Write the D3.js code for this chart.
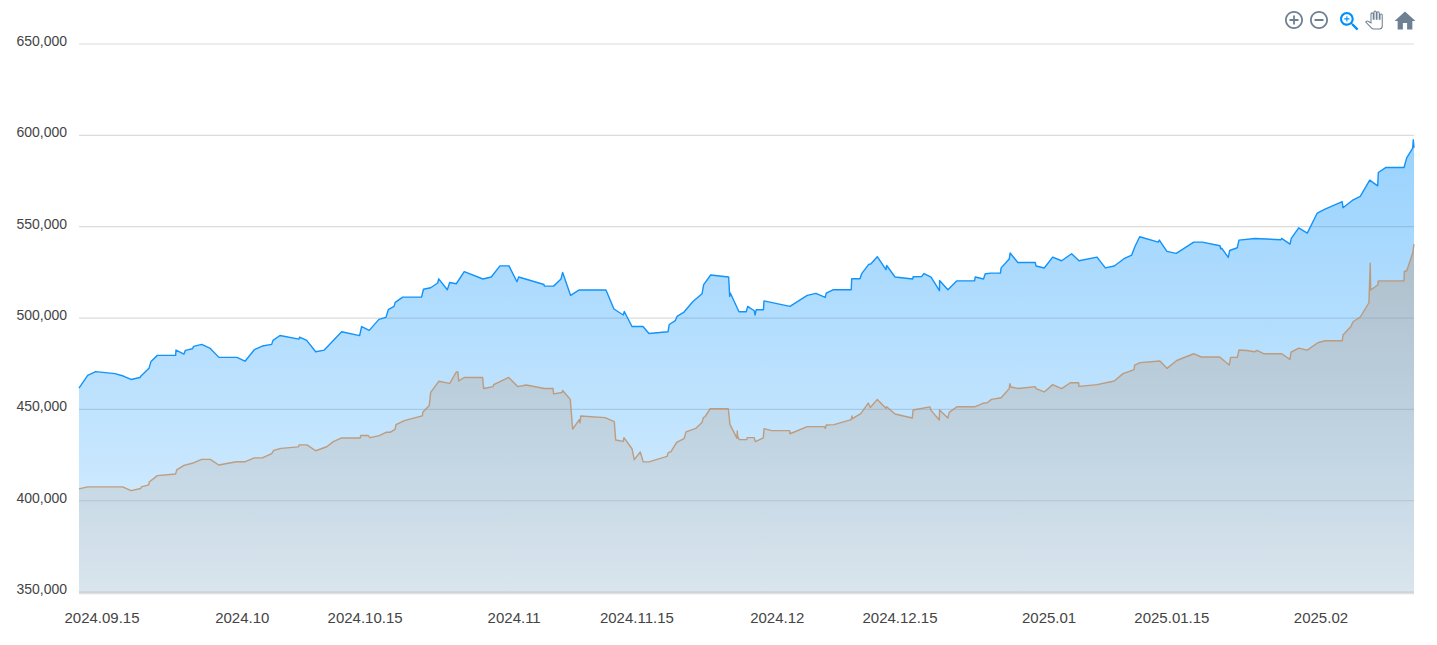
<!DOCTYPE html>
<html>
<head>
<meta charset="utf-8">
<script src="https://cdn.jsdelivr.net/npm/d3@7"></script>
<style>
html,body{margin:0;padding:0;background:#fff;overflow:hidden}
text{font-family:"Liberation Sans",Arial,sans-serif;fill:#373d3f}
</style>
</head>
<body>
<svg id="chart" width="1437" height="645"></svg>
<script>
// x values are days since 2024-09-15
const blueDays = [-2.62,-1.63,-0.72,1.48,2.43,3.31,4.33,4.45,5.36,5.59,6.31,8.40,8.44,9.35,9.50,10.30,10.46,11.37,12.35,13.34,15.39,16.31,17.37,18.28,19.35,19.50,20.30,22.46,22.54,23.34,24.37,25.35,27.33,29.38,29.61,30.48,31.58,32.38,32.65,33.30,33.44,34.29,36.44,36.66,37.48,38.28,38.40,39.38,39.65,40.40,41.31,43.44,44.39,45.38,46.41,47.32,47.52,50.40,50.44,51.50,52.34,52.53,53.44,54.42,57.47,58.38,59.44,59.56,60.44,61.69,62.37,64.54,64.69,65.37,65.57,66.37,67.39,68.42,68.61,69.41,71.46,71.58,71.65,72.64,73.47,73.63,74.38,74.48,74.60,75.43,75.49,78.45,80.42,81.41,82.47,82.59,83.35,85.44,85.49,86.43,86.63,87.43,87.66,88.41,89.40,89.48,90.43,92.45,92.49,93.48,93.74,94.54,95.50,95.51,96.46,97.49,99.50,99.58,100.52,100.72,101.40,102.45,102.53,103.45,103.56,104.44,106.43,106.51,107.45,108.41,109.43,110.57,111.41,113.46,114.41,115.43,116.54,117.42,117.79,118.33,120.45,120.57,121.44,122.50,124.49,125.47,127.49,127.57,127.68,128.43,128.59,129.46,129.65,131.47,134.44,134.52,135.47,135.62,136.46,137.44,138.58,139.46,141.43,141.51,142.57,143.48,144.56,145.47,145.54,146.38,148.47,148.78,149.46,149.53,149.61];
const blueValues = [461400,468300,470400,469300,468000,466100,467200,468000,472200,476000,479300,479300,482200,480000,482000,482900,484200,485300,483100,478200,478200,476100,482400,484400,485300,487500,490200,488200,489300,487500,481300,482200,492200,490100,495100,493000,499000,500100,504300,506100,508300,511200,511200,515500,516300,518900,521200,515200,519200,518500,525100,521100,522200,528300,528300,519600,522200,518100,517200,517200,521100,524700,512100,515100,515100,504700,501400,503300,495100,495100,491300,492200,496200,498300,500600,503000,508800,513000,518000,523300,522200,511600,513400,503200,503200,506100,503700,501400,504300,504300,509100,506100,512100,513200,511000,513400,515200,515200,521200,521200,524000,529100,529300,533300,526200,528500,522200,521100,522300,522500,524100,522100,514700,520300,515200,520100,520100,522200,521100,524000,524300,524300,527200,532000,535300,530100,530100,528200,527100,533100,531100,534900,531100,533100,527200,528200,532200,534200,538900,544200,541300,542400,536200,535100,541300,541300,539300,537600,538000,532900,536700,538200,542400,543300,542600,543300,540200,543300,549100,546200,557200,559400,563400,560100,564100,566300,575200,572100,579400,582100,582100,587400,592700,597300,592900];

const tanDays = [-2.62,-1.63,2.36,3.31,4.41,4.48,5.33,5.39,6.31,8.40,8.52,9.35,10.41,11.37,12.35,13.31,15.31,16.34,17.37,18.28,19.35,19.58,20.41,22.38,22.50,23.38,24.37,25.62,26.37,27.33,29.45,29.50,30.37,30.56,31.62,32.38,32.84,33.41,33.53,34.47,36.52,36.60,37.32,37.48,38.40,39.65,40.40,40.59,40.67,41.31,43.41,43.52,44.59,44.67,46.38,47.40,48.38,50.44,51.43,51.50,52.46,52.53,53.40,53.67,54.43,54.51,54.59,57.36,58.42,58.58,59.44,59.52,60.44,60.70,61.38,61.72,62.37,64.43,64.58,64.88,65.53,66.37,66.60,67.70,68.42,68.57,68.76,69.36,71.42,71.61,72.41,72.44,72.49,72.67,73.52,73.58,74.38,74.50,75.41,75.49,76.37,78.42,78.45,80.42,82.41,82.48,82.59,83.47,85.44,85.52,85.56,86.52,87.38,87.61,88.41,89.40,89.48,90.43,92.40,92.49,94.42,94.54,95.48,95.51,96.46,96.61,97.49,99.58,100.52,100.94,101.43,102.53,103.45,103.53,103.64,104.44,106.43,106.51,107.45,108.41,109.43,110.42,111.37,111.41,113.46,115.43,116.43,117.68,117.76,118.36,120.64,121.44,122.55,124.49,125.36,127.45,128.54,128.70,129.46,129.65,130.56,131.47,131.70,132.46,134.52,135.47,135.58,136.46,137.44,138.63,139.46,141.43,141.51,142.42,142.65,143.48,144.47,144.62,144.67,145.47,145.54,148.47,148.50,148.78,149.46,149.61];
const tanValues = [406200,407300,407300,405300,406400,407300,408400,410000,413500,414400,416600,419100,420400,422400,422400,419300,421100,421100,423200,423200,425500,427300,428400,429200,430300,430300,427100,429300,432100,434100,434100,435400,435400,434300,435400,437200,437200,438800,441400,443600,446200,448300,451900,459000,465100,464000,470200,470200,465300,467200,467200,461200,462200,463300,467200,462200,463100,461200,461200,458200,459000,460100,455200,439000,444100,442300,446100,445200,443000,433000,432200,434300,428200,422200,426400,421000,421000,424000,426100,426600,431700,433700,437400,439300,442600,445200,445700,450100,450100,441500,433900,437900,435000,433200,433200,434300,434300,432100,434100,439200,438100,438100,436400,440300,440300,439300,441200,441400,444100,446100,444700,447400,453200,450800,455200,450300,451200,447200,445000,449400,451100,449200,443900,449400,445000,448100,451200,451200,453200,453400,455200,456100,461100,463800,462000,461200,462200,461100,459300,463300,461100,464300,464300,462300,463300,465300,469300,471500,474000,475300,476200,472200,476500,480200,478400,478400,474000,478200,478200,482200,482000,481300,482000,480200,480200,477100,481100,483300,482200,486200,487300,487300,490400,495100,497700,500300,508100,529800,515100,517800,520100,520100,525200,525600,535300,540200];

const xTickDates = ["2024-09-15","2024-10-01","2024-10-15","2024-11-01","2024-11-15","2024-12-01","2024-12-15","2025-01-01","2025-01-15","2025-02-01"];
const xTickLabels = ["2024.09.15","2024.10","2024.10.15","2024.11","2024.11.15","2024.12","2024.12.15","2025.01","2025.01.15","2025.02"];
const yTicks = [350000,400000,450000,500000,550000,600000,650000];

const origin = Date.UTC(2024,8,15);
const toDate = d => new Date(origin + d*864e5);
const x = d3.scaleUtc().domain([toDate(-2.62),toDate(149.61)]).range([79,1414]);
const y = d3.scaleLinear().domain([350000,650000]).range([591.6,43.5]);
const baseValue = 349000;

const svg = d3.select("#chart");
const defs = svg.append("defs");
function grad(id, stops){
  const g = defs.append("linearGradient").attr("id",id).attr("gradientUnits","userSpaceOnUse")
    .attr("x1",0).attr("x2",0).attr("y1",140).attr("y2",593);
  stops.forEach(s=>g.append("stop").attr("offset",s[0]).attr("stop-color",s[1]).attr("stop-opacity",s[2]));
}
grad("gBlue",[[0,"#008ffb",0.40],[0.73,"#008ffb",0.215],[1,"#008ffb",0.125]]);
grad("gTan",[[0,"#b8967a",0.44],[0.243,"#b8967a",0.38],[0.73,"#b8967a",0.19],[1,"#b8967a",0.13]]);

// grid
const grid = svg.append("g").attr("transform","translate(79,0)")
  .call(d3.axisLeft(y).tickValues(yTicks).tickSize(-1335).tickFormat(""));
grid.select(".domain").remove();
grid.selectAll("line").attr("stroke","#dcdcdc").attr("stroke-width",1.2);

function series(days, values, fill, stroke){
  const pts = days.map((d,i)=>[toDate(d),values[i]]);
  const area = d3.area().x(p=>x(p[0])).y0(y(baseValue)).y1(p=>y(p[1]));
  const line = d3.line().x(p=>x(p[0])).y(p=>y(p[1]));
  svg.append("path").attr("d",area(pts)).attr("fill",fill);
  svg.append("path").attr("d",line(pts)).attr("fill","none").attr("stroke",stroke)
    .attr("stroke-width",1.4).attr("stroke-linejoin","round");
}
series(blueDays,blueValues,"url(#gBlue)","#1193fb");
series(tanDays,tanValues,"url(#gTan)","rgba(190,145,105,0.85)");

// axis baseline
svg.append("line").attr("x1",79).attr("x2",1414).attr("y1",y(baseValue)).attr("y2",y(baseValue))
  .attr("stroke","#e0e0e0").attr("stroke-width",1.5);

// y labels
const yAxis = svg.append("g").attr("transform","translate(67,-2.5)")
  .call(d3.axisLeft(y).tickValues(yTicks).tickSize(0).tickPadding(0).tickFormat(d3.format(",")));
yAxis.select(".domain").remove();
yAxis.selectAll("text").attr("font-size",14).style("fill","#444").style("font-family",'"Liberation Sans",Arial,sans-serif');

// x labels
const xAxis = svg.append("g").attr("transform","translate(-0.5,612)")
  .call(d3.axisBottom(x).tickValues(xTickDates.map(s=>new Date(s+"T00:00:00Z"))).tickSize(0).tickPadding(0)
    .tickFormat((d,i)=>xTickLabels[i]));
xAxis.select(".domain").remove();
xAxis.selectAll("text").attr("font-size",15).style("fill","#444").style("font-family",'"Liberation Sans",Arial,sans-serif');

// toolbar
const tools = [
 {p:"M13 7h-2v4H7v2h4v4h2v-4h4v-2h-4V7zm-1-5C6.49 2 2 6.49 2 12s4.49 10 10 10 10-4.49 10-10S17.51 2 12 2zm0 18c-4.41 0-8-3.59-8-8s3.59-8 8-8 8 3.59 8 8-3.59 8-8 8z",cx:1294,cy:20,s:0.9,c:"#6e8192"},
 {p:"M7 11v2h10v-2H7zm5-9C6.48 2 2 6.48 2 12s4.48 10 10 10 10-4.48 10-10S17.52 2 12 2zm0 18c-4.41 0-8-3.59-8-8s3.59-8 8-8 8 3.59 8 8-3.59 8-8 8z",cx:1319,cy:20,s:0.9,c:"#6e8192"},
 {p:"M15.5 14h-.79l-.28-.27C15.41 12.59 16 11.11 16 9.5 16 5.91 13.09 3 9.5 3S3 5.91 3 9.5 5.91 16 9.5 16c1.61 0 3.09-.59 4.23-1.57l.27.28v.79l5 4.99L20.49 19l-4.99-5zm-6 0C7.01 14 5 11.99 5 9.5S7.01 5 9.5 5 14 7.01 14 9.5 11.99 14 9.5 14zM12 10h-2v2H9v-2H7V9h2V7h1v2h2v1z",cx:1349.5,cy:21.5,s:1.05,c:"#008ffb"},
 {p:"M23 5.5V20c0 2.2-1.8 4-4 4h-7.3c-1.08 0-2.1-.43-2.85-1.19L1 14.83s1.26-1.23 1.3-1.25c.22-.19.49-.29.79-.29.22 0 .42.06.6.16.04.01 4.31 2.46 4.31 2.46V4c0-.83.67-1.5 1.5-1.5S11 3.17 11 4v7h1V1.5c0-.83.67-1.5 1.5-1.5S15 .67 15 1.5V11h1V2.5c0-.83.67-1.5 1.5-1.5s1.5.67 1.5 1.5V11h1V5.5c0-.83.67-1.5 1.5-1.5s1.5.67 1.5 1.5z",cx:1374,cy:20,s:0.75,c:"#fff",st:"#6e8192"},
 {p:"M10 20v-6h4v6h5v-8h3L12 3 2 12h3v8z",cx:1405,cy:21,s:1.05,c:"#6e8192"}
];
tools.forEach(t=>{
  svg.append("path").attr("d",t.p)
    .attr("transform",`translate(${t.cx-12*t.s},${t.cy-12*t.s}) scale(${t.s})`)
    .attr("fill",t.c).attr("stroke",t.st||"none").attr("stroke-width",t.st?1.4:0);
});
</script>
</body>
</html>
